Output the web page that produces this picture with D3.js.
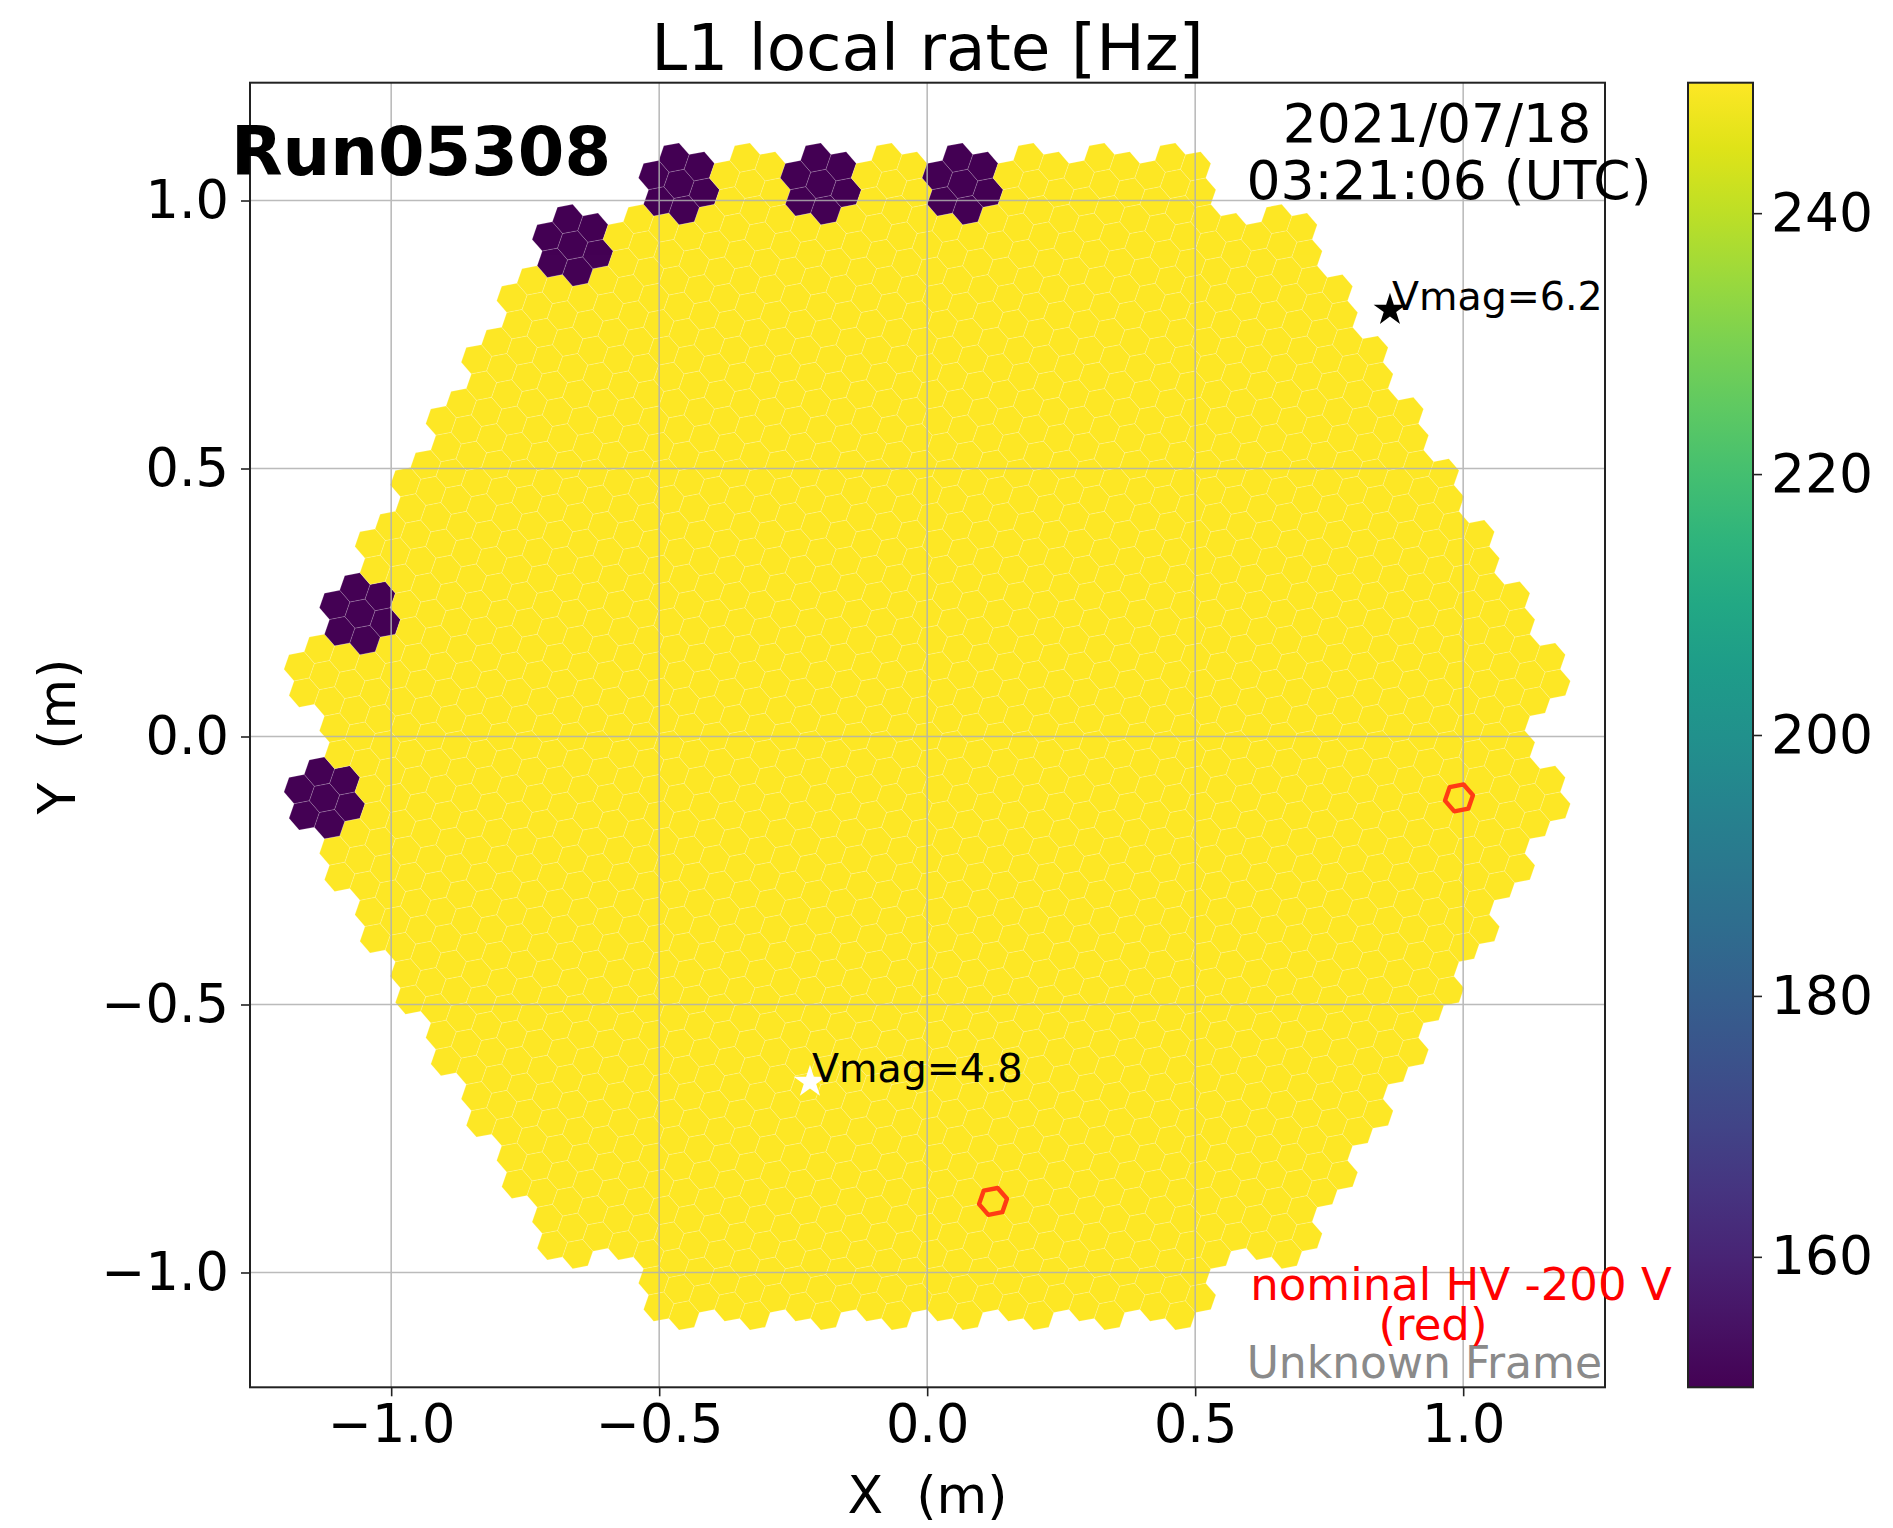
<!DOCTYPE html>
<html>
<head>
<meta charset="utf-8">
<script src="https://cdn.jsdelivr.net/npm/d3@7"></script>
<style>
  html, body { margin: 0; padding: 0; background: #fff; }
  text { font-family: "DejaVu Sans", sans-serif; }
</style>
</head>
<body>
<div id="chart"></div>
<script>
// ---------------- data ----------------
const X_TICKS = [-1.0, -0.5, 0.0, 0.5, 1.0];
const Y_TICKS = [-1.0, -0.5, 0.0, 0.5, 1.0];
const CBAR_TICKS = [160, 180, 200, 220, 240];
const RATE_RANGE = [150, 250];          // colour scale limits [Hz]
const NOMINAL_RATE = 250;               // rate of every working module (saturated yellow)
const DEAD_RATE = 150;                  // rate of the dark modules
// dark modules, axial module-lattice coordinates [q, r]
const DEAD_MODULES = [[-8, 9], [-6, 9], [-4, 9], [-9, 8], [-9, 2], [-8, -1]];
// pixels at nominal HV -200 V (approx. camera coords in m, snapped to nearest pixel)
const HV_PIXELS = [[0.991, -0.109], [0.1215, -0.863]];
const STARS = [
  { x: 0.8634, y: 0.7957, label: "Vmag=6.2", color: "#000" },
  { x: -0.2187, y: -0.6446, label: "Vmag=4.8", color: "#fff" }
];
const TITLE = "L1 local rate [Hz]";
const RUN_LABEL = "Run05308";
const DATE_LINES = ["2021/07/18", "03:21:06 (UTC)"];

// ---------------- camera geometry (LST: 265 modules x 7 pixels) ----------------
const PITCH = 0.05;                     // pixel pitch [m]
const MOD_SPACING = PITCH * Math.sqrt(7);
const MOD_RADIUS = 9;
const PIX_DIR0 = 40.893 * Math.PI / 180;  // first neighbour direction inside module
const PIX_VERT0 = 10.893 * Math.PI / 180; // first hexagon vertex angle
const PIX_R = PITCH / Math.sqrt(3);

const deadSet = new Set(DEAD_MODULES.map(d => d.join(",")));
const modules = [];
for (let r = -MOD_RADIUS; r <= MOD_RADIUS; r++) {
  for (let q = -MOD_RADIUS; q <= MOD_RADIUS; q++) {
    const s = -q - r;
    const a = [Math.abs(q), Math.abs(r), Math.abs(s)];
    if (Math.max(...a) > MOD_RADIUS) continue;
    if (a.filter(v => v === MOD_RADIUS).length >= 2) continue; // cut corners
    modules.push({ q, r, x: MOD_SPACING * (q + r / 2), y: MOD_SPACING * r * Math.sqrt(3) / 2,
                   rate: deadSet.has(q + "," + r) ? DEAD_RATE : NOMINAL_RATE });
  }
}
const pixels = [];
modules.forEach(m => {
  pixels.push({ x: m.x, y: m.y, rate: m.rate });
  for (let k = 0; k < 6; k++) {
    const a = PIX_DIR0 + k * Math.PI / 3;
    pixels.push({ x: m.x + PITCH * Math.cos(a), y: m.y + PITCH * Math.sin(a), rate: m.rate });
  }
});

// ---------------- layout ----------------
const W = 1893, H = 1528;
const AX = { left: 250, right: 1605, top: 82.7, bottom: 1387.3 };
const CB = { left: 1688, right: 1753, top: 82.7, bottom: 1387.3 };

const x = d3.scaleLinear().domain([-1.2634, 1.2646]).range([AX.left, AX.right]);
const y = d3.scaleLinear().domain([-1.2142, 1.2198]).range([AX.bottom, AX.top]);
const color = d3.scaleSequential(d3.interpolateViridis).domain(RATE_RANGE).clamp(true);
const cb = d3.scaleLinear().domain(RATE_RANGE).range([CB.bottom, CB.top]);

const svg = d3.select("#chart").append("svg").attr("width", W).attr("height", H)
  .style("display", "block");
svg.append("rect").attr("width", W).attr("height", H).attr("fill", "#fff");

svg.append("clipPath").attr("id", "axclip").append("rect")
  .attr("x", AX.left).attr("y", AX.top)
  .attr("width", AX.right - AX.left).attr("height", AX.bottom - AX.top);

const plot = svg.append("g").attr("clip-path", "url(#axclip)");

function hexPath(cx, cy, R) {
  const pts = [];
  for (let k = 0; k < 6; k++) {
    const a = PIX_VERT0 + k * Math.PI / 3;
    pts.push([x(cx + R * Math.cos(a)), y(cy + R * Math.sin(a))]);
  }
  return "M" + pts.map(p => p[0].toFixed(2) + "," + p[1].toFixed(2)).join("L") + "Z";
}

plot.append("g").selectAll("path").data(pixels).join("path")
  .attr("d", d => hexPath(d.x, d.y, PIX_R))
  .attr("fill", d => color(d.rate))
  .attr("stroke", "rgba(255,255,255,0.28)")
  .attr("stroke-width", 0.6);

// grid (above pixels)
const grid = plot.append("g").attr("stroke", "#b0b0b0").attr("stroke-width", 1.6).attr("opacity", 0.85);
grid.selectAll("line.gx").data(X_TICKS).join("line")
  .attr("x1", d => x(d)).attr("x2", d => x(d)).attr("y1", AX.top).attr("y2", AX.bottom);
grid.selectAll("line.gy").data(Y_TICKS).join("line")
  .attr("y1", d => y(d)).attr("y2", d => y(d)).attr("x1", AX.left).attr("x2", AX.right);

// HV highlighted pixels (snap to nearest pixel)
const hv = HV_PIXELS.map(([px, py]) => d3.least(pixels, p => (p.x - px) ** 2 + (p.y - py) ** 2));
plot.append("g").selectAll("path").data(hv).join("path")
  .attr("d", d => hexPath(d.x, d.y, PIX_R * 0.92))
  .attr("fill", "none").attr("stroke", "#ff3c14").attr("stroke-width", 4.4)
  .attr("stroke-linejoin", "round");

// stars
const starG = plot.append("g");
starG.selectAll("path").data(STARS).join("path")
  .attr("transform", d => `translate(${x(d.x)},${y(d.y)})`)
  .attr("d", d3.symbol().type(d3.symbolStar).size(330))
  .attr("fill", d => d.color);
starG.selectAll("text").data(STARS).join("text")
  .attr("x", d => x(d.x) + 2).attr("y", d => y(d.y))
  .attr("font-size", 39.5).attr("fill", "#000").text(d => d.label);

// axes frame
svg.append("rect").attr("x", AX.left).attr("y", AX.top)
  .attr("width", AX.right - AX.left).attr("height", AX.bottom - AX.top)
  .attr("fill", "none").attr("stroke", "#222").attr("stroke-width", 2);

const fmt = v => d3.format(".1f")(v).replace("-", "\u2212");
const TICK_FS = 52.5;
// x axis
const xAxis = d3.axisBottom(x).tickValues(X_TICKS).tickFormat(fmt).tickSizeInner(9).tickSizeOuter(0).tickPadding(8);
const gx = svg.append("g").attr("transform", `translate(0,${AX.bottom})`).call(xAxis);
gx.select(".domain").remove();
gx.selectAll(".tick line").attr("stroke", "#222").attr("stroke-width", 1.6);
gx.selectAll(".tick text").attr("font-size", TICK_FS).attr("font-family", "DejaVu Sans").attr("fill", "#000");
// y axis
const yAxis = d3.axisLeft(y).tickValues(Y_TICKS).tickFormat(fmt).tickSizeInner(9).tickSizeOuter(0).tickPadding(12);
const gy = svg.append("g").attr("transform", `translate(${AX.left},0)`).call(yAxis);
gy.select(".domain").remove();
gy.selectAll(".tick line").attr("stroke", "#222").attr("stroke-width", 1.6);
gy.selectAll(".tick text").attr("font-size", TICK_FS).attr("font-family", "DejaVu Sans").attr("fill", "#000");

// axis labels
svg.append("text").attr("x", (AX.left + AX.right) / 2).attr("y", 1513)
  .attr("text-anchor", "middle").attr("font-size", 52)
  .style("white-space", "pre").text("X  (m)");
svg.append("text").attr("transform", `translate(75,${y(0)}) rotate(-90)`)
  .attr("text-anchor", "middle").attr("font-size", 52)
  .style("white-space", "pre").text("Y  (m)");

// title
svg.append("text").attr("x", (AX.left + AX.right) / 2).attr("y", 70)
  .attr("text-anchor", "middle").attr("font-size", 64.5).text(TITLE);

// annotations
svg.append("text").attr("x", 231).attr("y", 175).attr("font-size", 67)
  .attr("font-weight", "bold").text(RUN_LABEL);
svg.append("text").attr("x", 1437).attr("y", 142).attr("text-anchor", "middle")
  .attr("font-size", 53.5).text(DATE_LINES[0]);
svg.append("text").attr("x", 1449).attr("y", 199).attr("text-anchor", "middle")
  .attr("font-size", 53.5).text(DATE_LINES[1]);
svg.append("text").attr("x", 1602).attr("y", 1378).attr("text-anchor", "end")
  .attr("font-size", 44).attr("fill", "#8a8a8a").text("Unknown Frame");
svg.append("text").attr("x", 1461).attr("y", 1300).attr("text-anchor", "middle")
  .attr("font-size", 45).attr("fill", "red").text("nominal HV -200 V");
svg.append("text").attr("x", 1433).attr("y", 1340).attr("text-anchor", "middle")
  .attr("font-size", 45).attr("fill", "red").text("(red)");

// colorbar
const defs = svg.append("defs");
const grad = defs.append("linearGradient").attr("id", "cbgrad")
  .attr("x1", 0).attr("y1", 1).attr("x2", 0).attr("y2", 0);
d3.range(0, 1.0001, 0.05).forEach(t => {
  grad.append("stop").attr("offset", t).attr("stop-color", d3.interpolateViridis(t));
});
svg.append("rect").attr("x", CB.left).attr("y", CB.top)
  .attr("width", CB.right - CB.left).attr("height", CB.bottom - CB.top)
  .attr("fill", "url(#cbgrad)").attr("stroke", "#222").attr("stroke-width", 2);
const cAxis = d3.axisRight(cb).tickValues(CBAR_TICKS).tickFormat(d3.format("d"))
  .tickSizeInner(9).tickSizeOuter(0).tickPadding(9);
const gc = svg.append("g").attr("transform", `translate(${CB.right},0)`).call(cAxis);
gc.select(".domain").remove();
gc.selectAll(".tick line").attr("stroke", "#222").attr("stroke-width", 1.6);
gc.selectAll(".tick text").attr("font-size", 53.5).attr("font-family", "DejaVu Sans").attr("fill", "#000");
</script>
</body>
</html>
